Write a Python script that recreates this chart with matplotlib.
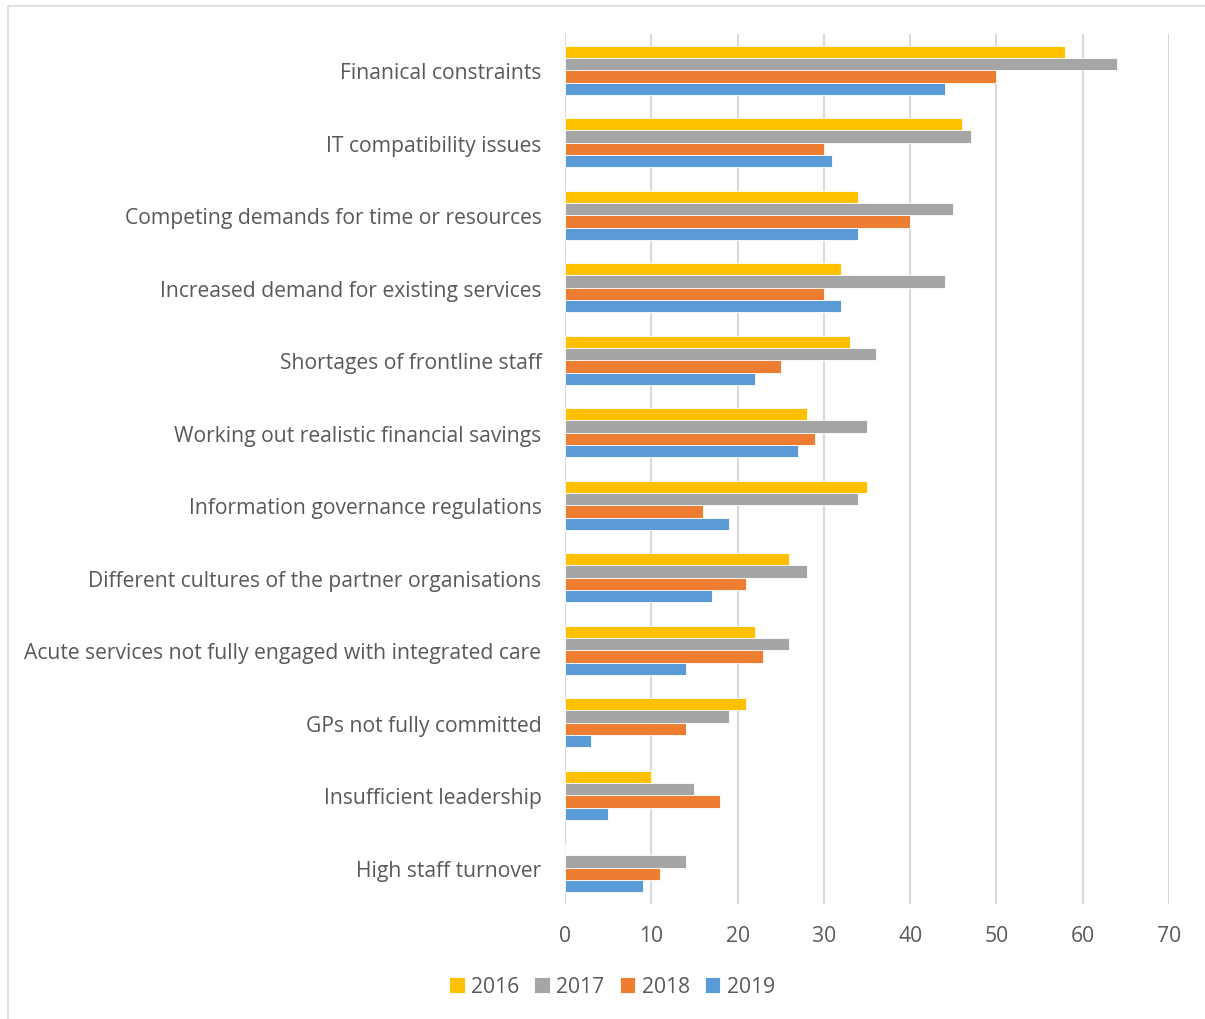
import matplotlib
matplotlib.use("Agg")
import matplotlib.pyplot as plt
import numpy as np
from matplotlib.patches import Rectangle

categories = [
    "Finanical constraints",
    "IT compatibility issues",
    "Competing demands for time or resources",
    "Increased demand for existing services",
    "Shortages of frontline staff",
    "Working out realistic financial savings",
    "Information governance regulations",
    "Different cultures of the partner organisations",
    "Acute services not fully engaged with integrated care",
    "GPs not fully committed",
    "Insufficient leadership",
    "High staff turnover",
]
years = ["2016", "2017", "2018", "2019"]
v2016 = [58, 46, 34, 32, 33, 28, 35, 26, 22, 21, 10, 0]
v2017 = [64, 47, 45, 44, 36, 35, 34, 28, 26, 19, 15, 14]
v2018 = [50, 30, 40, 30, 25, 29, 16, 21, 23, 14, 18, 11]
v2019 = [44, 31, 34, 32, 22, 27, 19, 17, 14, 3, 5, 9]
xticks = [0, 10, 20, 30, 40, 50, 60, 70]

colors = ["#FFC000", "#A5A5A5", "#ED7D31", "#5B9BD5"]
series = [v2016, v2017, v2018, v2019]

plt.rcParams['font.family'] = ['Open Sans', 'DejaVu Sans']
fig = plt.figure(figsize=(12.05, 10.2), dpi=100)
ax = fig.add_axes([565/1205, 1-905/1020, (1169-565)/1205, (905-35)/1020])

y = np.arange(len(categories))
h = 0.17
for i, (vals, c, yr) in enumerate(zip(series, colors, years)):
    ax.barh(y + (i - 1.5) * h, vals, height=h, color=c, edgecolor="white",
            linewidth=0.6, label=yr, zorder=3)

ax.set_ylim(len(categories) - 0.5, -0.5)
ax.set_xlim(0, 70)
ax.set_xticks(xticks)
ax.set_yticks(y)
ax.set_yticklabels(categories)
ax.tick_params(axis="both", length=0, labelsize=15.2, colors="#595959")
ax.tick_params(axis="y", pad=17)
ax.tick_params(axis="x", pad=15)
ax.grid(axis="x", color="#D9D9D9", linewidth=1.5, zorder=0)
for s in ax.spines.values():
    s.set_visible(False)

leg = fig.legend(loc="center", bbox_to_anchor=(612/1205, 1-988/1020), ncol=4,
                 frameon=False, fontsize=15.2, handlelength=0.75, handleheight=0.75,
                 handletextpad=0.3, columnspacing=0.7)
for t in leg.get_texts():
    t.set_color("#595959")

fig.patches.append(Rectangle((8/1205, -0.05), 1.2, 1.05-7/1020, transform=fig.transFigure,
                             fill=False, edgecolor="#D9D9D9", linewidth=1.2))

fig.savefig("out.png", dpi=100)
